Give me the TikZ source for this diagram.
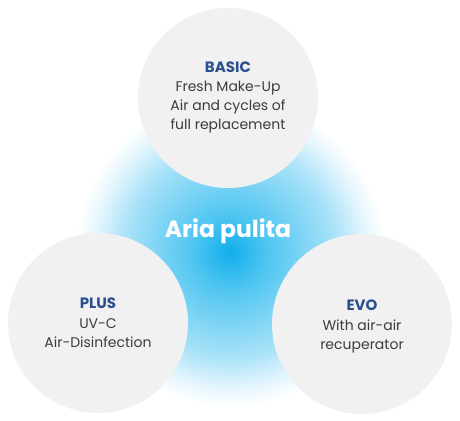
\documentclass[tikz,border=0pt]{standalone}
\usepackage{fontspec}
\setmainfont{Poppins}
\definecolor{bubblegrey}{HTML}{F1F1F1}
\definecolor{labelblue}{HTML}{2B4F8E}
\definecolor{textgrey}{HTML}{3C3C3C}
\definecolor{glowA}{HTML}{10AEEB}
\definecolor{glowB}{HTML}{4FC5F1}
\definecolor{glowC}{HTML}{A9E2F8}
\definecolor{glowD}{HTML}{E6F6FD}
\pgfdeclareradialshading{glowshade}{\pgfpoint{0bp}{0bp}}{color(0bp)=(glowA); color(6bp)=(glowB); color(17bp)=(glowC); color(22bp)=(glowD); color(25bp)=(white); color(50bp)=(white)}
\begin{document}
\begin{tikzpicture}[x=1pt,y=-1pt,
  bubble/.style={circle, fill=bubblegrey, minimum size=180pt, inner sep=0pt},
  bubbletext/.style={align=center, text=textgrey, font=\fontsize{14}{19.3}\selectfont}]
\path[use as bounding box] (0,0) rectangle (460,420);
\fill[white] (0,0) rectangle (460,420);
\shade[shading=glowshade] (230,252) circle (155pt);
\node[bubble] (basic) at (228,98) {};
\node[bubble] (plus) at (98,323) {};
\node[bubble] (evo) at (362,324) {};
\node[bubbletext] (basictext) at (228,97.5) {{\fontsize{15}{19.3}\selectfont\bfseries\color{labelblue}BASIC}\\Fresh Make-Up\\Air and cycles of\\full replacement};
\node[bubbletext] (plustext) at (98,323) {{\fontsize{15}{19.3}\selectfont\bfseries\color{labelblue}PLUS}\\UV-C\\Air-Disinfection};
\node[bubbletext] (evotext) at (362,326.5) {{\fontsize{15}{19.3}\selectfont\bfseries\color{labelblue}EVO}\\With air-air\\recuperator};
\node[text=white, font=\fontsize{23.5}{28}\selectfont\bfseries] (aria) at (228,231) {Aria pulita};
\end{tikzpicture}
\end{document}
